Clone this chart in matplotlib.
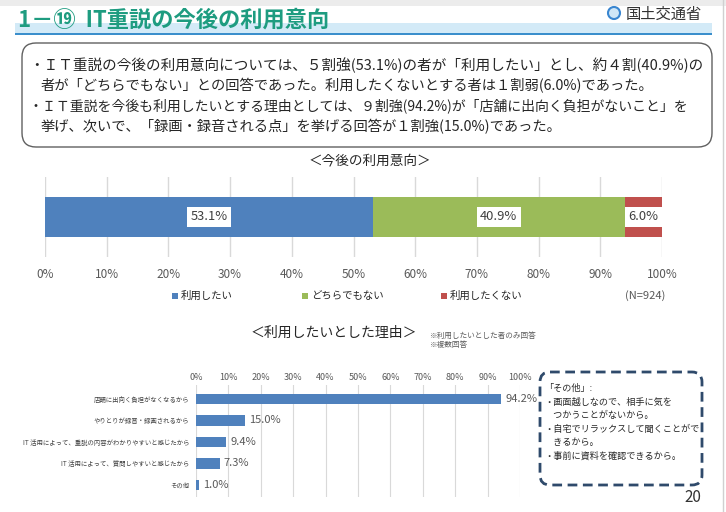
import matplotlib
matplotlib.use('Agg')
import matplotlib.pyplot as plt
from matplotlib.patches import FancyBboxPatch, Rectangle, Circle
import numpy as np

plt.rcParams['font.family'] = ['Noto Sans CJK JP', 'DejaVu Sans']

# ---------------- data ----------------
intent_categories = ['利用したい', 'どちらでもない', '利用したくない']
intent_values = [53.1, 40.9, 6.0]
intent_colors = ['#4F81BD', '#9BBB59', '#C0504D']
intent_n = '(N=924)'

reason_categories = ['店舗に出向く負担がなくなるから',
                     'やりとりが録音・録画されるから',
                     'IT 活用によって、重説の内容がわかりやすいと感じたから',
                     'IT 活用によって、質問しやすいと感じたから',
                     'その他']
reason_values = [94.2, 15.0, 9.4, 7.3, 1.0]
reason_n = '(N=481)'

pct_ticks = [0, 10, 20, 30, 40, 50, 60, 70, 80, 90, 100]
pct_labels = [f'{t}%' for t in pct_ticks]

title = '1－⑲  IT重説の今後の利用意向'
summary_lines = [
    '・ＩＴ重説の今後の利用意向については、５割強(53.1%)の者が「利用したい」とし、約４割(40.9%)の',
    '者が「どちらでもない」との回答であった。利用したくないとする者は１割弱(6.0%)であった。',
    '・ＩＴ重説を今後も利用したいとする理由としては、９割強(94.2%)が「店舗に出向く負担がないこと」を',
    '挙げ、次いで、「録画・録音される点」を挙げる回答が１割強(15.0%)であった。',
]
other_lines = ['「その他」:',
               '・画面越しなので、相手に気を',
               '　つかうことがないから。',
               '・自宅でリラックスして聞くことがで',
               '　きるから。',
               '・事前に資料を確認できるから。']

# ---------------- figure ----------------
W, H = 726, 512
fig = plt.figure(figsize=(W / 100, H / 100), dpi=100)
bg = fig.add_axes([0, 0, 1, 1])
bg.set_xlim(0, W)
bg.set_ylim(H, 0)
bg.axis('off')


def ax_box(x0, y0, x1, y1):
    return fig.add_axes([x0 / W, 1 - y1 / H, (x1 - x0) / W, (y1 - y0) / H])


TXT = '#262626'
GRAY = '#595959'

# header
bg.add_patch(Rectangle((0, 0), W, 6, color='#ececec', lw=0))
bg.add_patch(Rectangle((15, 23), 697, 10, color='#d3eaf7', lw=0))
bg.add_patch(Rectangle((15, 32.5), 697, 2.5, color='#3b8fcc', lw=0))
bg.text(18, 20, title, fontsize=16, fontweight='bold', color='#1E9C80',
        va='center', ha='left')
bg.add_patch(Circle((614, 13), 6, fc='#cfe6f7', ec='#3a86d0', lw=1.5))
bg.text(626, 14, '国土交通省', fontsize=11, color='#333333', va='center', ha='left')
bg.plot([723, 723], [0, H], color='#d0d0d0', lw=1)

# summary box
bg.add_patch(FancyBboxPatch((22, 43), 690, 104,
                            boxstyle='round,pad=0,rounding_size=14',
                            fc='white', ec='#606060', lw=1.0))
line_y = [65, 86, 106, 127]
line_x = [29, 41, 29, 41]
line_fs = [10.5, 10.3, 10.0, 10.3]
for s, x, y, fs in zip(summary_lines, line_x, line_y, line_fs):
    bg.text(x, y, s, fontsize=fs, color=TXT, va='center', ha='left')

# ---------------- chart 1 ----------------
bg.text(370, 160, '＜今後の利用意向＞', fontsize=9.8, color=TXT, ha='center', va='center')
ax1 = ax_box(45, 177, 662, 257)
left = 0
for v, c in zip(intent_values, intent_colors):
    ax1.barh(0, v, left=left, height=1.0, color=c, zorder=3)
    ax1.text(left + v / 2, 0, f'{v:.1f}%', ha='center', va='center',
             fontsize=9.3, color='#404040', zorder=4,
             bbox=dict(boxstyle='square,pad=0.25', fc='white', ec='none'))
    left += v
ax1.set_xlim(0, 100)
ax1.set_ylim(-1, 1)
ax1.set_xticks(pct_ticks)
ax1.set_xticklabels(pct_labels, fontsize=8.5, color=GRAY)
ax1.set_yticks([])
ax1.tick_params(axis='x', length=0, pad=8)
ax1.grid(axis='x', color='#d9d9d9', lw=1, zorder=0)
for sp in ax1.spines.values():
    sp.set_visible(False)

leg_x = [172, 302, 441]
for name, c, x in zip(intent_categories, intent_colors, leg_x):
    bg.add_patch(Rectangle((x, 293), 6, 6, color=c, lw=0))
    bg.text(x + 9, 296, name, fontsize=7.5, color=TXT, ha='left', va='center')
bg.text(645, 296, intent_n, fontsize=8, color=GRAY, ha='center', va='center')

# ---------------- chart 2 ----------------
bg.text(334, 333, '＜利用したいとした理由＞', fontsize=10, color=TXT, ha='center', va='center')
bg.text(430, 336, '※利用したいとした者のみ回答', fontsize=5.5, color=GRAY, ha='left', va='center')
bg.text(430, 345, '※複数回答', fontsize=5.5, color=GRAY, ha='left', va='center')

ax2 = ax_box(196, 385, 520, 497)
ypos = np.arange(len(reason_values))
ax2.barh(ypos, reason_values, height=0.47, color='#4F81BD', zorder=3)
for y, v in zip(ypos, reason_values):
    ax2.text(v + 1.3, y, f'{v:.1f}%', ha='left', va='center', fontsize=8, color=GRAY)
ax2.set_xlim(0, 100)
ax2.set_ylim(4.56, -0.65)
ax2.xaxis.tick_top()
ax2.set_xticks(pct_ticks)
ax2.set_xticklabels(pct_labels, fontsize=6.5, color=GRAY)
ax2.set_yticks(ypos)
ax2.set_yticklabels(reason_categories, fontsize=4.6, color='#404040')
ax2.tick_params(axis='x', length=0, pad=2)
ax2.tick_params(axis='y', length=0, pad=5)
ax2.grid(axis='x', color='#d9d9d9', lw=0.8, zorder=0)
for sp in ax2.spines.values():
    sp.set_visible(False)
bg.text(500, 487, reason_n, fontsize=7, color=GRAY, ha='center', va='center')

# other box
bg.add_patch(FancyBboxPatch((540, 372), 162, 113,
                            boxstyle='round,pad=0,rounding_size=10',
                            fc='white', ec='#2F4A6B', lw=2, linestyle=(0, (3.5, 2))))
oy = [388, 402, 415, 429, 442, 456]
for s, y in zip(other_lines, oy):
    bg.text(544, y, s, fontsize=6.6, color=TXT, ha='left', va='center')

bg.text(701, 498, '20', fontsize=11, color='#333333', ha='right', va='center')

fig.savefig('out.png', dpi=100)
